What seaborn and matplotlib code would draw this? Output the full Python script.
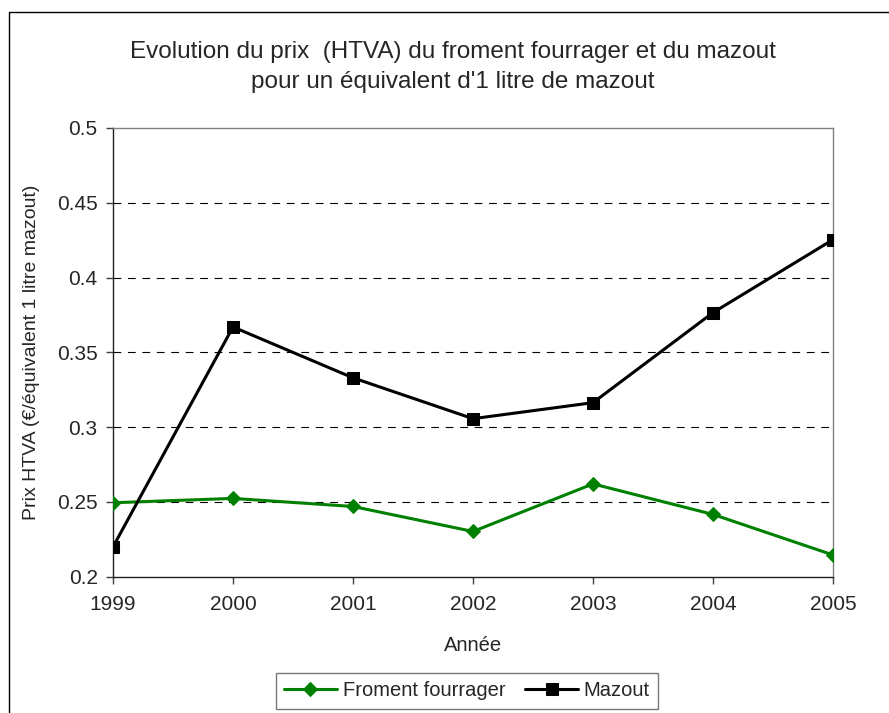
import numpy as np
import pandas as pd
import matplotlib
matplotlib.use("Agg")
import matplotlib.pyplot as plt
import seaborn as sns
from matplotlib.patches import Rectangle

# Données
annees = [1999, 2000, 2001, 2002, 2003, 2004, 2005]
froment = [0.2495, 0.2524, 0.247, 0.2303, 0.2621, 0.2417, 0.2146]
mazout = [0.220, 0.367, 0.333, 0.3057, 0.3164, 0.3766, 0.4254]
yticks = [0.2, 0.25, 0.3, 0.35, 0.4, 0.45, 0.5]
ytick_labels = ["0.2", "0.25", "0.3", "0.35", "0.4", "0.45", "0.5"]

df = pd.DataFrame({"Année": annees, "Froment fourrager": froment, "Mazout": mazout})

sns.set_style("white")
plt.rcParams['font.family'] = ['Liberation Sans', 'DejaVu Sans']

fig = plt.figure(figsize=(8.89, 7.13), dpi=100)
ax = fig.add_axes([113/889, 1-576.8/713, (833-113)/889, (576.8-128)/713])

# cadre du graphique (coupé à droite et en bas)
fig.patches.append(Rectangle((9/889, -0.1), 2, 1-12/713+0.1, transform=fig.transFigure,
                             fill=False, edgecolor='black', linewidth=1.0, zorder=0))

for y in yticks[1:-1]:
    ax.axhline(y, color='black', linewidth=0.8, linestyle=(0, (7, 6)), zorder=1)

sns.lineplot(data=df, x="Année", y="Froment fourrager", ax=ax, color='#008000',
             marker='D', markersize=7, markeredgecolor='#008000', linewidth=2.2,
             label="Froment fourrager", zorder=3)
sns.lineplot(data=df, x="Année", y="Mazout", ax=ax, color='black',
             marker='s', markersize=8.5, markeredgecolor='black', linewidth=2.2,
             label="Mazout", zorder=3)

ax.set_xlim(1999, 2005)
ax.set_ylim(0.2, 0.5)
ax.set_xticks(annees)
ax.set_xticklabels([str(a) for a in annees])
ax.set_yticks(yticks)
ax.set_yticklabels(ytick_labels)
ax.tick_params(axis='both', direction='out', length=5, width=1, color='#404040',
               labelsize=15, pad=6, left=True, bottom=True)
ax.tick_params(axis='x', pad=8)
ax.set_xlabel("Année", fontsize=14.5, labelpad=16)
ax.set_ylabel("Prix HTVA (€/équivalent 1 litre mazout)", fontsize=14, labelpad=12)

for side in ['left', 'bottom']:
    ax.spines[side].set_color('#202020')
    ax.spines[side].set_linewidth(1.0)
for side in ['top', 'right']:
    ax.spines[side].set_color('#808080')
    ax.spines[side].set_linewidth(1.0)

fig.text(453/889, 1-67/713, "Evolution du prix  (HTVA) du froment fourrager et du mazout\npour un équivalent d'1 litre de mazout",
         ha='center', va='center', fontsize=17.5, linespacing=1.45)

ax.legend_.remove()
h, l = ax.get_legend_handles_labels()
leg = fig.legend(h, l, loc='center', bbox_to_anchor=(467/889, 1-691/713), ncol=2,
                 frameon=True, fancybox=False, fontsize=14.5, handlelength=2.6,
                 columnspacing=1.0, handletextpad=0.3, borderpad=0.4, borderaxespad=0)
leg.get_frame().set_edgecolor('#555555')
leg.get_frame().set_linewidth(1.0)

fig.savefig("out.png", dpi=100)
